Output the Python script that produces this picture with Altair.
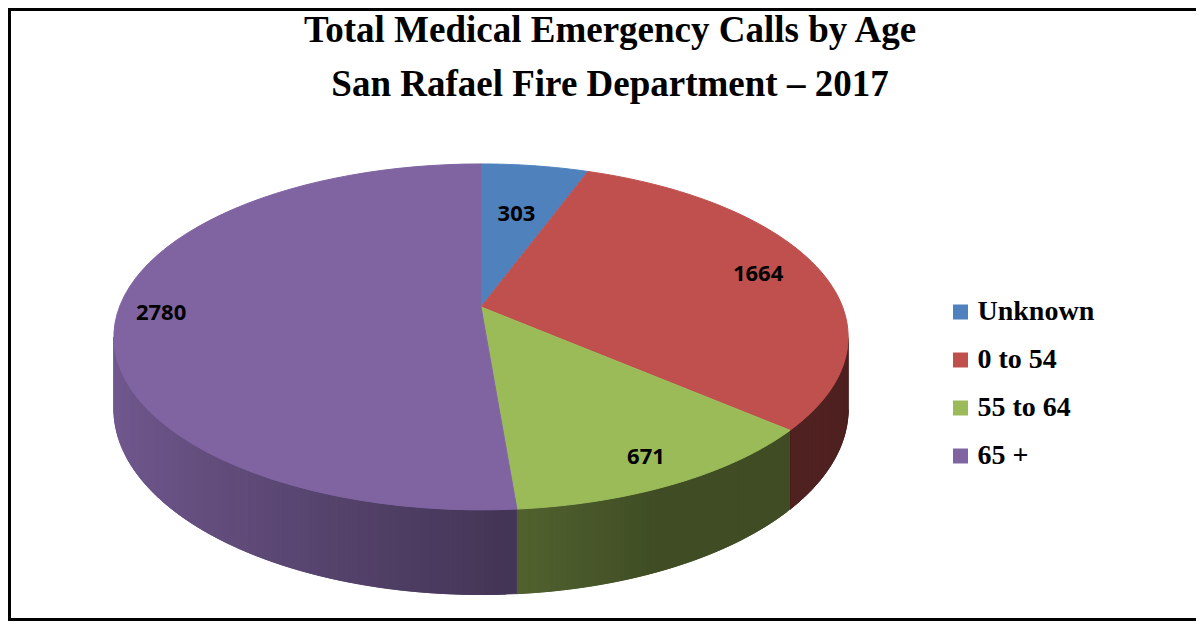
import math
import altair as alt
import pandas as pd

# ---- data ----
categories = ["Unknown", "0 to 54", "55 to 64", "65 +"]
calls = [303, 1664, 671, 2780]
colors = ["#4f81bd", "#c0504d", "#9bbb59", "#8064a2"]
title_lines = ["Total Medical Emergency Calls by Age",
               "San Rafael Fire Department \u2013 2017"]
# layout: radial position of each value label (fraction of radius)
label_radius = [0.62, 0.82, 0.87, 0.88]

df = pd.DataFrame({"cat": categories, "val": calls,
                   "idx": list(range(len(categories)))})
one = pd.DataFrame({"k": [0]})

# ---- layout / 3-D projection parameters ----
W, H = 1188, 613
CX, CY = 481.0, 307.0      # pie centre (page px)
RX, RY = 361.6, 167.8      # radii of the tilted disc
P = 0.173                  # perspective strength
DEPTH = 70.0               # thickness of the pie
T1 = math.acos(-P)
T2 = 2 * math.pi - T1      # visible part of the side wall

rgb = [tuple(int(c[i:i + 2], 16) for i in (1, 3, 5)) for c in colors]
R_ = ",".join(str(c[0]) for c in rgb)
G_ = ",".join(str(c[1]) for c in rgb)
B_ = ",".join(str(c[2]) for c in rgb)
LR_ = ",".join(str(r) for r in label_radius)


def proj_x(u, v):
    return f"{CX} + {RX}*({u})/(1 + {P}*({v}))"


def proj_y(u, v):
    return f"{CY} - {RY}*({v})/(1 + {P}*({v}))"


xs = alt.Scale(domain=[8, 8 + W], nice=False, zero=False)
ys = alt.Scale(domain=[8, 8 + H], reverse=True, nice=False, zero=False)
cscale = alt.Scale(domain=categories, range=colors)


def slices():
    return (alt.Chart(df)
            .transform_window(cum="sum(val)",
                              sort=[alt.SortField("idx", order="ascending")])
            .transform_joinaggregate(total="sum(val)")
            .transform_calculate(a0="2*PI*(datum.cum - datum.val)/datum.total")
            .transform_calculate(a1="2*PI*datum.cum/datum.total"))


X = alt.X("px:Q", scale=xs, axis=None)
Y = alt.Y("py:Q", scale=ys, axis=None)

# ---- side wall (shaded, overlapping strips) ----
NS = 60
wall = (slices()
        .transform_calculate(tv0=f"max(datum.a0, {T1})")
        .transform_calculate(tv1=f"min(datum.a1, {T2})")
        .transform_filter("datum.tv1 > datum.tv0 + 0.0001")
        .transform_calculate(j=f"sequence(0, {NS})")
        .transform_flatten(["j"])
        .transform_calculate(c="[0, 1, 2, 3]")
        .transform_flatten(["c"])
        .transform_calculate(t=f"datum.tv0 + (datum.tv1 - datum.tv0)*min({NS}, datum.j + ((datum.c == 1 || datum.c == 2) ? 2 : 0))/{NS}")
        .transform_calculate(tm=f"datum.tv0 + (datum.tv1 - datum.tv0)*(datum.j + 0.5)/{NS}")
        .transform_calculate(u="sin(datum.t)")
        .transform_calculate(v="cos(datum.t)")
        .transform_calculate(px=proj_x("datum.u", "datum.v"))
        .transform_calculate(py=proj_y("datum.u", "datum.v")
                             + f" + (datum.c >= 2 ? {DEPTH}/(1 + {P}*datum.v) : 0)")
        .transform_calculate(f="max(0.41, 0.55 - 0.34*sin(datum.tm))")
        .transform_calculate(r=f"[{R_}][datum.idx]")
        .transform_calculate(g=f"[{G_}][datum.idx]")
        .transform_calculate(b=f"[{B_}][datum.idx]")
        .transform_calculate(wc="'rgb(' + round(datum.r*datum.f) + ',' + round(datum.g*datum.f) + ',' + round(datum.b*datum.f) + ')'")
        .mark_line(filled=True, strokeWidth=0.8)
        .encode(x=X, y=Y, order=alt.Order("c:Q"),
                detail=["idx:N", "j:N"],
                fill=alt.Fill("wc:N", scale=None),
                stroke=alt.Stroke("wc:N", scale=None)))

# ---- top faces ----
NP = 60
legend = alt.Legend(orient="none", legendX=938.5, legendY=290, title=None,
                    symbolType="square", symbolSize=225, symbolStrokeWidth=0,
                    labelFont="Liberation Serif", labelFontWeight="bold",
                    labelFontSize=28, labelColor="black", labelOffset=3,
                    rowPadding=20, padding=0, labelLimit=400,
                    direction="vertical")
top = (slices()
       .transform_calculate(k=f"sequence(0, {NP + 2})")
       .transform_flatten(["k"])
       .transform_calculate(t=f"datum.a0 + (datum.a1 - datum.a0)*(datum.k - 1)/{NP}")
       .transform_calculate(u="datum.k == 0 ? 0 : sin(datum.t)")
       .transform_calculate(v="datum.k == 0 ? 0 : cos(datum.t)")
       .transform_calculate(px=proj_x("datum.u", "datum.v"))
       .transform_calculate(py=proj_y("datum.u", "datum.v"))
       .mark_line(filled=True, strokeWidth=1)
       .encode(x=X, y=Y, order=alt.Order("k:Q"),
               fill=alt.Fill("cat:N", scale=cscale, legend=legend),
               stroke=alt.Stroke("cat:N", scale=cscale, legend=None)))

# ---- value labels ----
labels = (slices()
          .transform_calculate(tm="(datum.a0 + datum.a1)/2")
          .transform_calculate(lr=f"[{LR_}][datum.idx]")
          .transform_calculate(u="datum.lr*sin(datum.tm)")
          .transform_calculate(v="datum.lr*cos(datum.tm)")
          .transform_calculate(px=proj_x("datum.u", "datum.v"))
          .transform_calculate(py=proj_y("datum.u", "datum.v"))
          .mark_text(font="Open Sans", fontWeight="bold", fontSize=22,
                     color="black", align="center", baseline="middle")
          .encode(x=X, y=Y, text=alt.Text("val:Q", format="d")))

# ---- title ----
title = (alt.Chart(one)
         .mark_text(font="Liberation Serif", fontWeight="bold", fontSize=37,
                    lineHeight=54, align="center", baseline="alphabetic",
                    color="black")
         .encode(x=alt.value(602), y=alt.value(34), text=alt.value(title_lines)))

# ---- frame (left, top, bottom; the reference has no right edge) ----
b_left = alt.Chart(one).mark_rule(color="black", strokeWidth=3).encode(
    x=alt.value(1.5), y=alt.value(0), y2=alt.value(H))
b_top = alt.Chart(one).mark_rule(color="black", strokeWidth=3).encode(
    x=alt.value(0), x2=alt.value(W), y=alt.value(1.5))
b_bottom = alt.Chart(one).mark_rule(color="black", strokeWidth=3).encode(
    x=alt.value(0), x2=alt.value(W), y=alt.value(H - 1.5))
b_right = alt.Chart(one).mark_rule(color="white", strokeWidth=4).encode(
    x=alt.value(W - 1), y=alt.value(3), y2=alt.value(H - 3))

chart = (alt.layer(wall, top, labels, title, b_left, b_top, b_bottom, b_right)
         .resolve_scale(fill="independent", stroke="independent")
         .properties(width=W, height=H, padding=0,
                     autosize=alt.AutoSizeParams(type="none"),
                     background="white",
                     view=alt.ViewBackground(stroke="transparent",
                                             strokeWidth=0))
         .configure_view(stroke="transparent", strokeWidth=0))

chart.save("out.html", embed_options={"renderer": "svg", "actions": False})
